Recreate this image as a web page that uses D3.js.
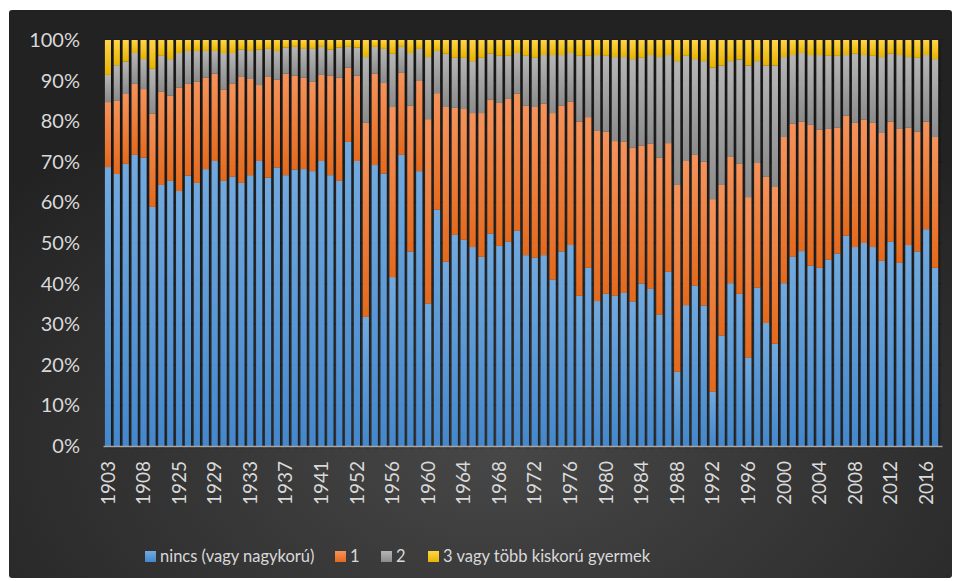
<!DOCTYPE html>
<html>
<head>
<meta charset="utf-8">
<script src="https://cdn.jsdelivr.net/npm/d3@7"></script>
<style>
  body { margin: 0; background: #fff; }
  text { font-family: Lato, "Open Sans", sans-serif; fill: #d9d9d9; }
</style>
</head>
<body>
<svg id="chart" width="958" height="581"></svg>
<script>
// categories (years)
const years = [1903, 1904, 1905, 1906, 1908, 1910, 1912, 1914,
  1925, 1926, 1927, 1928, 1929, 1930, 1931, 1932, 1933, 1934, 1935, 1936, 1937, 1938, 1939, 1940, 1941,
  1942, 1943, 1948,
  1952, 1953, 1954, 1955, 1956, 1957, 1958, 1959, 1960, 1961, 1962, 1963, 1964, 1965, 1966, 1967,
  1968, 1969, 1970, 1971, 1972, 1973, 1974, 1975, 1976, 1977, 1978, 1979, 1980, 1981, 1982, 1983,
  1984, 1985, 1986, 1987, 1988, 1989, 1990, 1991, 1992, 1993, 1994, 1995, 1996, 1997, 1998, 1999,
  2000, 2001, 2002, 2003, 2004, 2005, 2006, 2007, 2008, 2009, 2010, 2011, 2012, 2013, 2014, 2015,
  2016, 2017]

// shares in %
const nincs = [68.7, 67.0, 69.5, 71.7, 71.0, 58.9, 64.3, 65.3, 62.8, 66.6, 64.8, 68.2, 70.2, 65.3, 66.3, 64.8,
  66.7, 70.2, 66.1, 68.6, 66.7, 68.1, 68.2, 67.7, 70.2, 66.7, 65.3, 74.9, 70.2, 31.8, 69.2, 67.1,
  41.6, 71.7, 47.9, 67.7, 35.1, 58.2, 45.4, 52.0, 50.8, 49.0, 46.6, 52.3, 49.3, 50.3, 53.0, 47.0,
  46.4, 47.0, 41.0, 47.9, 49.5, 37.0, 43.9, 35.7, 37.5, 37.0, 37.7, 35.6, 40.0, 38.7, 32.3, 42.9,
  18.3, 34.7, 39.5, 34.6, 13.4, 27.2, 40.1, 37.5, 21.8, 39.0, 30.3, 25.2, 40.1, 46.6, 48.0, 44.4,
  43.9, 45.9, 47.4, 51.8, 49.0, 50.0, 49.0, 45.6, 50.3, 45.1, 49.5, 47.9, 53.4, 43.9]
const egy = [16.0, 18.0, 17.2, 17.5, 16.9, 23.0, 23.0, 21.0, 25.5, 22.6, 24.9, 22.5, 21.5, 22.5, 22.9, 26.1,
  23.7, 18.7, 24.8, 21.6, 25.0, 23.1, 22.5, 22.0, 21.2, 24.5, 25.4, 18.3, 21.0, 47.8, 22.5, 22.3,
  41.9, 20.2, 35.9, 22.2, 45.4, 28.7, 38.1, 31.3, 32.2, 33.0, 35.4, 33.0, 35.2, 35.2, 33.8, 36.8,
  37.1, 37.3, 41.0, 35.9, 35.3, 42.9, 37.1, 41.9, 39.9, 38.1, 37.3, 37.9, 34.0, 35.8, 38.7, 31.7,
  46.0, 35.5, 32.2, 35.4, 47.4, 37.1, 31.1, 32.0, 39.5, 30.7, 36.0, 38.6, 36.0, 32.8, 31.9, 34.7,
  34.0, 32.2, 31.0, 29.6, 30.6, 30.4, 30.6, 31.5, 29.6, 33.0, 28.9, 29.5, 26.5, 32.2]
const ketto = [6.7, 8.8, 8.0, 7.6, 7.4, 11.0, 8.8, 9.0, 8.5, 8.1, 7.6, 6.6, 5.6, 9.0, 7.6, 6.7,
  6.9, 8.7, 6.9, 7.1, 6.4, 7.1, 7.1, 8.1, 6.9, 6.4, 7.4, 5.1, 6.9, 16.2, 6.6, 8.4,
  13.1, 6.4, 13.0, 7.9, 15.3, 10.4, 13.1, 12.3, 12.6, 12.8, 13.6, 11.3, 11.6, 10.6, 10.0, 12.3,
  12.1, 12.0, 14.3, 12.5, 12.0, 16.2, 15.1, 18.7, 18.7, 20.7, 20.8, 21.8, 21.6, 21.8, 24.8, 21.7,
  30.5, 25.9, 23.6, 24.8, 32.4, 29.4, 23.6, 25.7, 32.4, 25.1, 27.4, 29.9, 19.7, 16.9, 16.9, 17.2,
  18.4, 18.0, 17.7, 14.9, 17.0, 15.9, 16.5, 18.7, 16.7, 18.2, 17.4, 18.2, 16.4, 19.2]
const harom = [8.6, 6.2, 5.3, 3.2, 4.7, 7.1, 3.9, 4.7, 3.2, 2.7, 2.7, 2.7, 2.7, 3.2, 3.2, 2.4,
  2.7, 2.4, 2.2, 2.7, 1.9, 1.7, 2.2, 2.2, 1.7, 2.4, 1.9, 1.7, 1.9, 4.2, 1.7, 2.2,
  3.4, 1.7, 3.2, 2.2, 4.2, 2.7, 3.4, 4.4, 4.4, 5.2, 4.4, 3.4, 3.9, 3.9, 3.2, 3.9,
  4.4, 3.7, 3.7, 3.7, 3.2, 3.9, 3.9, 3.7, 3.9, 4.2, 4.2, 4.7, 4.4, 3.7, 4.2, 3.7,
  5.2, 3.9, 4.7, 5.2, 6.8, 6.3, 5.2, 4.8, 6.3, 5.2, 6.3, 6.3, 4.2, 3.7, 3.2, 3.7,
  3.7, 3.9, 3.9, 3.7, 3.4, 3.7, 3.9, 4.2, 3.4, 3.7, 4.2, 4.4, 3.7, 4.7]

const seriesKeys = ['nincs', 'egy', 'ketto', 'harom']
const seriesNames = ['nincs (vagy nagykorú)', '1', '2', '3 vagy több kiskorú gyermek']
const yTicks = [0, 0.1, 0.2, 0.3, 0.4, 0.5, 0.6, 0.7, 0.8, 0.9, 1]

// colours: top / bottom of each gradient
const colors = {
  nincs: ['#72aadf', '#4387cc'],
  egy: ['#f5935c', '#e4691c'],
  ketto: ['#b6b6b6', '#8b8b8b'],
  harom: ['#ffd54a', '#e7b300']
}

const rows = years.map((y, i) => ({
  year: String(y), nincs: nincs[i], egy: egy[i], ketto: ketto[i], harom: harom[i]
}))

const svg = d3.select('#chart')
const defs = svg.append('defs')

// background
const bg = defs.append('radialGradient').attr('id', 'bg')
  .attr('cx', '52%').attr('cy', '78%').attr('r', '70%')
bg.append('stop').attr('offset', '0%').attr('stop-color', '#474747')
bg.append('stop').attr('offset', '100%').attr('stop-color', '#222222')

seriesKeys.forEach(k => {
  const g = defs.append('linearGradient').attr('id', 'g-' + k)
    .attr('x1', 0).attr('y1', 0).attr('x2', 0).attr('y2', 1)
  g.append('stop').attr('offset', '0%').attr('stop-color', colors[k][0])
  g.append('stop').attr('offset', '100%').attr('stop-color', colors[k][1])
})

const shadow = defs.append('filter').attr('id', 'shadow')
  .attr('x', '-50%').attr('y', '-10%').attr('width', '200%').attr('height', '120%')
shadow.append('feDropShadow').attr('dx', 1.5).attr('dy', 1.5)
  .attr('stdDeviation', 1.2).attr('flood-color', '#000').attr('flood-opacity', 0.6)

svg.append('rect').attr('x', 9).attr('y', 10).attr('width', 943).attr('height', 568)
  .attr('rx', 3).attr('fill', 'url(#bg)')

const margin = { left: 103.5, right: 939.5, top: 40, bottom: 446 }

const x = d3.scaleBand().domain(rows.map(d => d.year))
  .range([margin.left, margin.right])
  .paddingInner(0.32).paddingOuter(0.16)
const y = d3.scaleLinear().domain([0, 1]).range([margin.bottom, margin.top])

// gridlines
svg.append('g').selectAll('line').data(yTicks.slice(1)).join('line')
  .attr('x1', margin.left).attr('x2', margin.right + 3)
  .attr('y1', d => y(d)).attr('y2', d => y(d))
  .attr('stroke', '#000').attr('stroke-opacity', 0.22)

// y axis labels
const yAxis = d3.axisLeft(y).tickValues(yTicks).tickFormat(d3.format('.0%')).tickSize(0).tickPadding(0)
const yAxisDraw = svg.append('g').attr('transform', 'translate(80,0)').call(yAxis)
yAxisDraw.select('.domain').remove()
yAxisDraw.selectAll('text').attr('fill', '#d9d9d9').style('font-size', '20px')
  .style('font-family', 'Lato, sans-serif')

// stacked bars
const stack = d3.stack().keys(seriesKeys).offset(d3.stackOffsetExpand)
const layers = stack(rows)

svg.append('g').attr('filter', 'url(#shadow)')
  .selectAll('g').data(layers).join('g')
  .attr('fill', d => 'url(#g-' + d.key + ')')
  .selectAll('rect').data(d => d).join('rect')
  .attr('x', d => x(d.data.year))
  .attr('width', x.bandwidth())
  .attr('y', d => y(d[1]))
  .attr('height', d => y(d[0]) - y(d[1]))

// baseline
svg.append('line').attr('x1', margin.left).attr('x2', margin.right + 3)
  .attr('y1', margin.bottom + 0.5).attr('y2', margin.bottom + 0.5)
  .attr('stroke', '#a6a6a6').attr('stroke-width', 1.5)

// x axis labels, every 4th year
const xAxis = d3.axisBottom(x)
  .tickValues(rows.map(d => d.year).filter((d, i) => i % 4 === 0))
  .tickSize(0).tickPadding(0)
const xAxisDraw = svg.append('g').attr('transform', `translate(0, ${margin.bottom})`).call(xAxis)
xAxisDraw.select('.domain').remove()
xAxisDraw.selectAll('text')
  .attr('fill', '#d9d9d9').style('font-size', '19px').style('font-family', 'Lato, sans-serif')
  .attr('text-anchor', 'end').attr('dy', '0.35em')
  .attr('transform', 'translate(0,15) rotate(-90)')
  .attr('x', 0).attr('y', 0)

// legend
const legendX = [145, 335, 381, 428]
const legend = svg.append('g').selectAll('g').data(seriesNames).join('g')
  .attr('transform', (d, i) => `translate(${legendX[i]}, 551)`)
legend.append('rect').attr('width', 11).attr('height', 11)
  .attr('fill', (d, i) => 'url(#g-' + seriesKeys[i] + ')')
legend.append('text').attr('x', 15).attr('y', 11)
  .style('font-size', '16.5px').text(d => d)
</script>
</body>
</html>
